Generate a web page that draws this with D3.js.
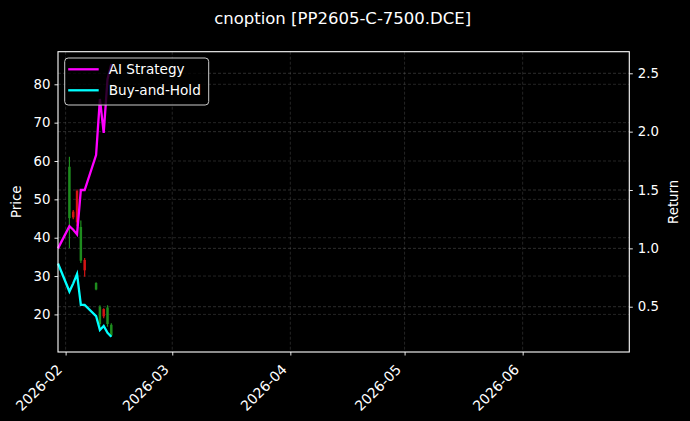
<!DOCTYPE html>
<html>
<head>
<meta charset="utf-8">
<script src="https://cdnjs.cloudflare.com/ajax/libs/d3/7.8.5/d3.min.js"></script>
<style>
  body { margin: 0; background: #000; }
  svg { display: block; font-family: "DejaVu Sans", sans-serif; }
</style>
</head>
<body>
<script>
// Candle data (trading days)
var candleDates = ["2026-02-02", "2026-02-03", "2026-02-04", "2026-02-05", "2026-02-06",
                   "2026-02-09", "2026-02-10", "2026-02-11", "2026-02-12", "2026-02-13"];
var opens  = [45.1, 46.8, 52.2, 34.0, 34.2, 26.5, 17.5, 21.4, 17.5, 14.5];
var highs  = [61.1, 47.2, 52.6, 44.5, 34.7, 28.4, 22.4, 21.6, 22.4, 17.7];
var lows   = [37.3, 44.8, 43.0, 33.4, 29.8, 26.3, 16.8, 19.0, 16.8, 14.2];
var closes = [58.5, 45.3, 44.0, 42.8, 31.5, 28.2, 22.0, 19.5, 21.8, 17.3];

// Return series (right axis)
var lineDates = ["2026-01-30", "2026-02-02", "2026-02-03", "2026-02-04", "2026-02-05", "2026-02-06",
                 "2026-02-09", "2026-02-10", "2026-02-11", "2026-02-12", "2026-02-13"];
var aiStrategy  = [1.00, 1.19, 1.16, 1.12, 1.50, 1.50, 1.80, 2.28, 1.99, 2.45, 2.58];
var buyAndHold  = [0.87, 0.63, 0.70, 0.78, 0.515, 0.515, 0.42, 0.30, 0.335, 0.277, 0.243];

var priceTicks  = [20, 30, 40, 50, 60, 70, 80];
var returnTicks = [0.5, 1.0, 1.5, 2.0, 2.5];
var xDomain = ["2026-01-30", "2026-06-29"];

var parse = d3.timeParse("%Y-%m-%d");

// chart size
var W = 690, H = 421;
var margin = {top: 51.7, right: 60.7, bottom: 69, left: 58};
var width = W - margin.left - margin.right,
    height = H - margin.top - margin.bottom;

var svg = d3.select("body").append("svg")
    .attr("width", W)
    .attr("height", H);

svg.append("rect").attr("width", W).attr("height", H).attr("fill", "#000");

var g = svg.append("g")
    .attr("transform", "translate(" + margin.left + "," + margin.top + ")");

// scales
var x = d3.scaleTime()
    .domain(xDomain.map(parse))
    .range([0, width]);

var y = d3.scaleLinear()
    .domain([10.2, 88.5])
    .range([height, 0]);

var y2 = d3.scaleLinear()
    .domain([0.112, 2.685])
    .range([height, 0]);

var monthTicks = d3.timeMonth.range(parse("2026-02-01"), parse("2026-06-30"));

// grid lines
var grid = g.append("g").attr("class", "grid")
    .attr("stroke", "#808080")
    .attr("stroke-opacity", 0.4)
    .attr("stroke-width", 0.7)
    .attr("stroke-dasharray", "3,2");

grid.selectAll(".gx").data(monthTicks).enter().append("line")
    .attr("x1", function(d) { return x(d); })
    .attr("x2", function(d) { return x(d); })
    .attr("y1", 0).attr("y2", height);

grid.selectAll(".gy").data(priceTicks).enter().append("line")
    .attr("x1", 0).attr("x2", width)
    .attr("y1", function(d) { return y(d); })
    .attr("y2", function(d) { return y(d); });

grid.selectAll(".gy2").data(returnTicks).enter().append("line")
    .attr("x1", 0).attr("x2", width)
    .attr("y1", function(d) { return y2(d); })
    .attr("y2", function(d) { return y2(d); })
    .attr("stroke-opacity", 0.5);

// candles
var candles = candleDates.map(function(d, i) {
  return {date: parse(d), o: opens[i], h: highs[i], l: lows[i], c: closes[i]};
});

var dayW = x(parse("2026-02-03")) - x(parse("2026-02-02"));
var bodyW = dayW * 0.65;

var cg = g.append("g");
cg.selectAll(".wick").data(candles).enter().append("line")
    .attr("x1", function(d) { return x(d.date); })
    .attr("x2", function(d) { return x(d.date); })
    .attr("y1", function(d) { return y(d.h); })
    .attr("y2", function(d) { return y(d.l); })
    .attr("stroke", function(d) { return d.c >= d.o ? "#1e8c1e" : "#d41414"; })
    .attr("stroke-width", 1.2);

cg.selectAll(".body").data(candles).enter().append("rect")
    .attr("x", function(d) { return x(d.date) - bodyW / 2; })
    .attr("width", bodyW)
    .attr("y", function(d) { return y(Math.max(d.o, d.c)); })
    .attr("height", function(d) { return Math.max(1, Math.abs(y(d.o) - y(d.c))); })
    .attr("fill", function(d) { return d.c >= d.o ? "#1e8c1e" : "#d41414"; });

// return lines
var line = d3.line()
    .x(function(d) { return x(d.date); })
    .y(function(d) { return y2(d.v); });

function series(vals) {
  return lineDates.map(function(d, i) { return {date: parse(d), v: vals[i]}; });
}

g.append("path").datum(series(aiStrategy))
    .attr("d", line)
    .attr("fill", "none")
    .attr("stroke", "#ff00ff")
    .attr("stroke-width", 2.3);

g.append("path").datum(series(buyAndHold))
    .attr("d", line)
    .attr("fill", "none")
    .attr("stroke", "#00ffff")
    .attr("stroke-width", 2.3);

// axes
var xAxis = g.append("g")
    .attr("transform", "translate(0," + height + ")")
    .call(d3.axisBottom(x).tickValues(monthTicks).tickFormat(d3.timeFormat("%Y-%m")).tickSizeOuter(0).tickSize(3.5));

var yAxis = g.append("g")
    .call(d3.axisLeft(y).tickValues(priceTicks).tickSizeOuter(0).tickSize(3.5).tickPadding(4));

var y2Axis = g.append("g")
    .attr("transform", "translate(" + width + ",0)")
    .call(d3.axisRight(y2).tickValues(returnTicks).tickFormat(d3.format(".1f")).tickSizeOuter(0).tickSize(3.5).tickPadding(5));

[xAxis, yAxis, y2Axis].forEach(function(a) {
  a.select(".domain").remove();
  a.selectAll("line").attr("stroke", "#fff").attr("stroke-width", 0.9);
  a.selectAll("text").attr("fill", "#fff").style("font-size", "13.3px").style("font-family", "DejaVu Sans");
});

// rotated month labels, top-right corner just below the tick
xAxis.selectAll("text")
    .style("font-size", "14px")
    .style("text-anchor", "end")
    .attr("y", 0)
    .attr("dy", 0)
    .attr("transform", "translate(-3,18.5) rotate(-45)");

// frame
g.append("rect")
    .attr("width", width).attr("height", height)
    .attr("fill", "none")
    .attr("stroke", "#fff")
    .attr("stroke-width", 1.1);

// labels
svg.append("text")
    .attr("x", margin.left + width / 2 - 1)
    .attr("y", 23.5)
    .attr("text-anchor", "middle")
    .attr("fill", "#fff")
    .style("font-size", "16.5px")
    .text("cnoption [PP2605-C-7500.DCE]");

svg.append("text")
    .attr("transform", "translate(21," + (margin.top + height / 2) + ") rotate(-90)")
    .attr("text-anchor", "middle")
    .attr("fill", "#fff")
    .style("font-size", "13.3px")
    .text("Price");

svg.append("text")
    .attr("transform", "translate(678," + (margin.top + height / 2) + ") rotate(-90)")
    .attr("text-anchor", "middle")
    .attr("fill", "#fff")
    .style("font-size", "13.3px")
    .text("Return");

// legend
var legendItems = ["AI Strategy", "Buy-and-Hold"];
var legendColors = ["#ff00ff", "#00ffff"];

var lg = svg.append("g").attr("transform", "translate(64.7,58)");
lg.append("rect")
    .attr("width", 144).attr("height", 47)
    .attr("rx", 3.5)
    .attr("fill", "#000").attr("fill-opacity", 0.8)
    .attr("stroke", "#cccccc").attr("stroke-width", 1);

var li = lg.selectAll(".item").data(legendItems).enter().append("g")
    .attr("transform", function(d, i) { return "translate(0," + (11.3 + i * 21) + ")"; });
li.append("line")
    .attr("x1", 3.5).attr("x2", 34)
    .attr("stroke", function(d, i) { return legendColors[i]; })
    .attr("stroke-width", 2.3);
li.append("text")
    .attr("x", 44)
    .attr("dy", "0.35em")
    .attr("fill", "#fff")
    .style("font-size", "13.6px")
    .text(function(d) { return d; });
</script>
</body>
</html>
